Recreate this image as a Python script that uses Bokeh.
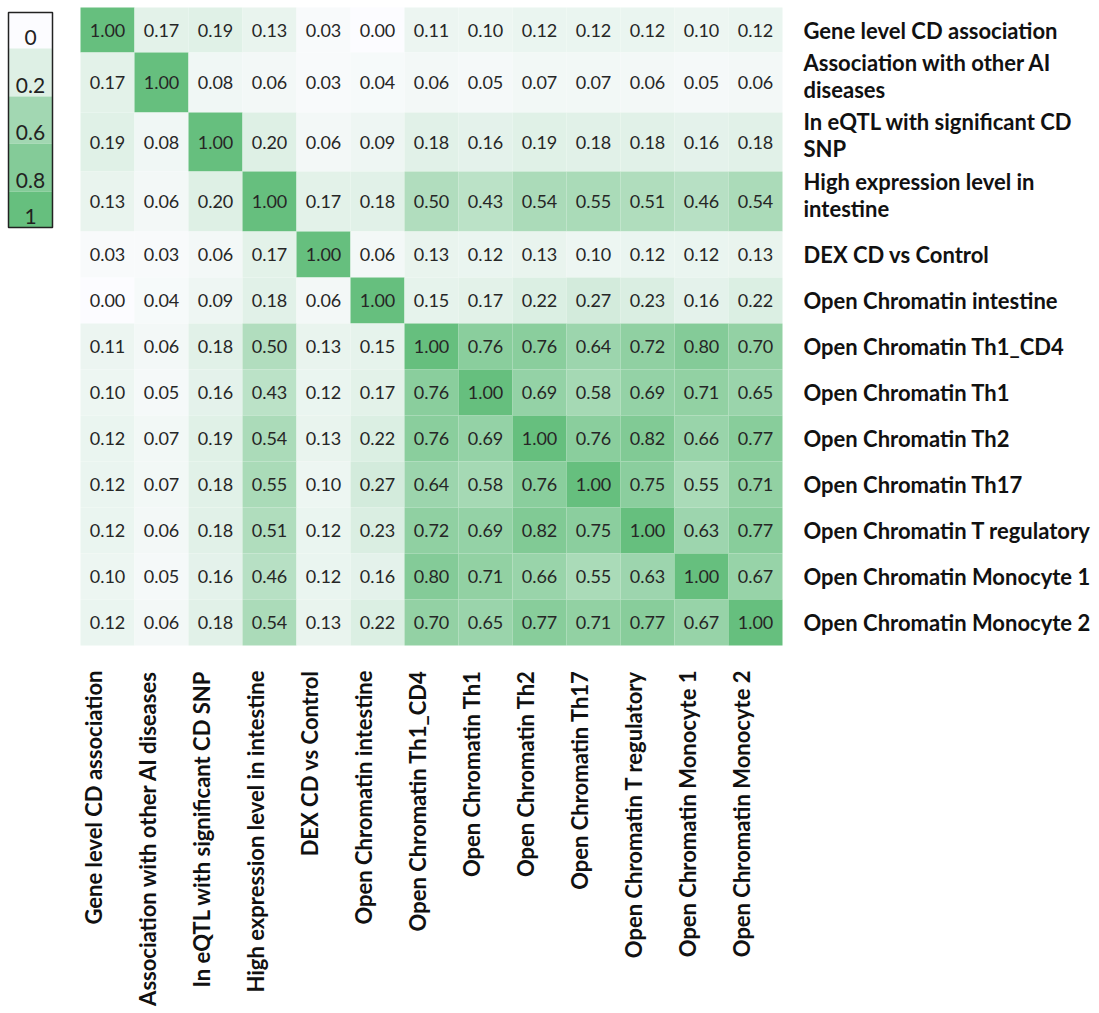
import math
from bokeh.plotting import figure
from bokeh.models import ColumnDataSource, LinearColorMapper, Range1d
from bokeh.core.properties import value
from bokeh.embed import file_html
from bokeh.resources import INLINE

# ---------------- data ----------------
features = [
    "Gene level CD association",
    "Association with other AI diseases",
    "In eQTL with significant CD SNP",
    "High expression level in intestine",
    "DEX CD vs Control",
    "Open Chromatin intestine",
    "Open Chromatin Th1_CD4",
    "Open Chromatin Th1",
    "Open Chromatin Th2",
    "Open Chromatin Th17",
    "Open Chromatin T regulatory",
    "Open Chromatin Monocyte 1",
    "Open Chromatin Monocyte 2",
]
right_labels = [
    "Gene level CD association",
    "Association with other AI\ndiseases",
    "In eQTL with significant CD\nSNP",
    "High expression level in\nintestine",
    "DEX CD vs Control",
    "Open Chromatin intestine",
    "Open Chromatin Th1_CD4",
    "Open Chromatin Th1",
    "Open Chromatin Th2",
    "Open Chromatin Th17",
    "Open Chromatin T regulatory",
    "Open Chromatin Monocyte 1",
    "Open Chromatin Monocyte 2",
]
corr = [
    [1.00, 0.17, 0.19, 0.13, 0.03, 0.00, 0.11, 0.10, 0.12, 0.12, 0.12, 0.10, 0.12],
    [0.17, 1.00, 0.08, 0.06, 0.03, 0.04, 0.06, 0.05, 0.07, 0.07, 0.06, 0.05, 0.06],
    [0.19, 0.08, 1.00, 0.20, 0.06, 0.09, 0.18, 0.16, 0.19, 0.18, 0.18, 0.16, 0.18],
    [0.13, 0.06, 0.20, 1.00, 0.17, 0.18, 0.50, 0.43, 0.54, 0.55, 0.51, 0.46, 0.54],
    [0.03, 0.03, 0.06, 0.17, 1.00, 0.06, 0.13, 0.12, 0.13, 0.10, 0.12, 0.12, 0.13],
    [0.00, 0.04, 0.09, 0.18, 0.06, 1.00, 0.15, 0.17, 0.22, 0.27, 0.23, 0.16, 0.22],
    [0.11, 0.06, 0.18, 0.50, 0.13, 0.15, 1.00, 0.76, 0.76, 0.64, 0.72, 0.80, 0.70],
    [0.10, 0.05, 0.16, 0.43, 0.12, 0.17, 0.76, 1.00, 0.69, 0.58, 0.69, 0.71, 0.65],
    [0.12, 0.07, 0.19, 0.54, 0.13, 0.22, 0.76, 0.69, 1.00, 0.76, 0.82, 0.66, 0.77],
    [0.12, 0.07, 0.18, 0.55, 0.10, 0.27, 0.64, 0.58, 0.76, 1.00, 0.75, 0.55, 0.71],
    [0.12, 0.06, 0.18, 0.51, 0.12, 0.23, 0.72, 0.69, 0.82, 0.75, 1.00, 0.63, 0.77],
    [0.10, 0.05, 0.16, 0.46, 0.12, 0.16, 0.80, 0.71, 0.66, 0.55, 0.63, 1.00, 0.67],
    [0.12, 0.06, 0.18, 0.54, 0.13, 0.22, 0.70, 0.65, 0.77, 0.71, 0.77, 0.67, 1.00],
]
legend_values = [0, 0.2, 0.6, 0.8, 1]
legend_labels = ["0", "0.2", "0.6", "0.8", "1"]

# ---------------- layout / style ----------------
W, H = 1099, 1013
X0, CW = 80, 54
Y0 = 7
ROW_H = [45, 60, 59, 60] + [46] * 9
LEG_X0, LEG_W = 8, 44
LEG_EDGES = [12, 48, 96, 143, 191, 227]
FONT = "Lato"

def interp(c1, c2, n=256):
    a = [int(c1[i:i + 2], 16) for i in (1, 3, 5)]
    b = [int(c2[i:i + 2], 16) for i in (1, 3, 5)]
    out = []
    for k in range(n):
        t = k / (n - 1)
        out.append("#%02x%02x%02x" % tuple(round(a[i] + (b[i] - a[i]) * t) for i in range(3)))
    return out

mapper = LinearColorMapper(palette=interp("#FCFCFF", "#66BF7E"), low=0, high=1)

# row geometry
row_top = []
acc = Y0
for h in ROW_H:
    row_top.append(acc)
    acc += h
grid_bottom = acc
row_ctr = [t + h / 2 for t, h in zip(row_top, ROW_H)]
col_ctr = [X0 + (j + 0.5) * CW for j in range(len(features))]

cx, cy, cw, ch, cv, ct = [], [], [], [], [], []
for i in range(len(features)):
    for j in range(len(features)):
        cx.append(col_ctr[j]); cy.append(row_ctr[i])
        cw.append(CW); ch.append(ROW_H[i])
        cv.append(corr[i][j]); ct.append("%.2f" % corr[i][j])
cells = ColumnDataSource(dict(x=cx, y=cy, w=cw, h=ch, v=cv, t=ct))

p = figure(width=W, height=H, x_range=Range1d(0, W), y_range=Range1d(H, 0),
           output_backend="svg", toolbar_location=None,
           x_axis_location=None, y_axis_location=None, min_border=0)
p.outline_line_color = None
p.grid.visible = False
p.background_fill_color = "white"

p.rect(x="x", y="y", width="w", height="h", source=cells,
       fill_color={"field": "v", "transform": mapper}, line_color=None)
p.text(x="x", y="y", text="t", source=cells, text_align="center",
       text_baseline="middle", text_font=value(FONT), text_font_size="18px",
       text_color="#262626")

# right-hand row labels
ry = [c - 7 if "\n" in lab else c for c, lab in zip(row_ctr, right_labels)]
p.text(x=[X0 + len(features) * CW] * len(features), y=ry, text=right_labels,
       x_offset=21, text_align="left", text_baseline="middle",
       text_font=value(FONT), text_font_style="bold", text_font_size="22px",
       text_line_height=1.0, text_color="#111111")

# bottom column labels
p.text(x=col_ctr, y=[grid_bottom + 25] * len(features), text=features,
       x_offset=-14, angle=math.pi / 2, text_align="right", text_baseline="middle",
       text_font=value(FONT), text_font_style="bold", text_font_size="22px",
       text_color="#111111")

# legend
lx = LEG_X0 + LEG_W / 2
ly = [(a + b) / 2 for a, b in zip(LEG_EDGES[:-1], LEG_EDGES[1:])]
lh = [b - a for a, b in zip(LEG_EDGES[:-1], LEG_EDGES[1:])]
leg = ColumnDataSource(dict(x=[lx] * len(legend_values), y=ly, h=lh, v=legend_values,
                            t=legend_labels, ty=[b - 11 for b in LEG_EDGES[1:]]))
p.rect(x="x", y="y", width=LEG_W, height="h", source=leg,
       fill_color={"field": "v", "transform": mapper}, line_color=None)
p.rect(x=lx, y=(LEG_EDGES[0] + LEG_EDGES[-1]) / 2, width=LEG_W,
       height=LEG_EDGES[-1] - LEG_EDGES[0], fill_color=None,
       line_color="#222222", line_width=1.5)
p.text(x="x", y="ty", text="t", source=leg, text_align="center",
       text_baseline="middle", text_font=value(FONT), text_font_size="21px",
       text_color="#222222")

open("out.html", "w").write(file_html(p, INLINE))
